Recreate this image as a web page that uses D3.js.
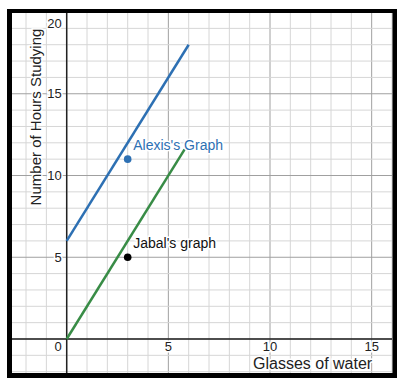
<!DOCTYPE html>
<html><head><meta charset="utf-8">
<script src="https://cdn.jsdelivr.net/npm/d3@7"></script>
<style>body{margin:0;background:#fff}svg{display:block}text{font-family:Arial,"Liberation Sans",sans-serif}</style>
</head><body>
<svg id="c" width="404" height="386"></svg>
<script>
const xTicks = [0, 5, 10, 15];
const yTicks = [5, 10, 15, 20];
const alexisLine = [{x: 0, y: 6}, {x: 6, y: 18}];
const jabalLine = [{x: 0, y: 0}, {x: 5.8, y: 11.6}];
const alexisPoint = {x: 3, y: 11};
const jabalPoint = {x: 3, y: 5};
const labels = {xTitle: "Glasses of water", yTitle: "Number of Hours Studying", alexis: "Alexis's Graph", jabal: "Jabal's graph"};

const svg = d3.select("#c");
const L = 12, R = 392, T = 13, B = 373;
const x = d3.scaleLinear().domain([-2.69, 16.0]).range([L, R]);
const y = d3.scaleLinear().domain([-2.08, 19.94]).range([B, T]);

svg.append("rect").attr("x", 7).attr("y", 9).attr("width", 390).attr("height", 369).attr("fill", "#000");
svg.append("rect").attr("x", L).attr("y", T).attr("width", R - L).attr("height", B - T).attr("fill", "#fff");

const g = svg.append("g");
const xs = d3.range(-2, 17), ys = d3.range(-2, 20);
g.selectAll(".vx").data(xs).join("line")
  .attr("x1", d => x(d)).attr("x2", d => x(d)).attr("y1", T).attr("y2", B)
  .attr("stroke", d => d % 5 === 0 ? "#a0a0a0" : "#d6d6d6").attr("stroke-width", 1);
g.selectAll(".hy").data(ys).join("line")
  .attr("y1", d => y(d)).attr("y2", d => y(d)).attr("x1", L).attr("x2", R)
  .attr("stroke", d => d % 5 === 0 ? "#a0a0a0" : "#d6d6d6").attr("stroke-width", 1);
// axes
g.append("line").attr("x1", x(0)).attr("x2", x(0)).attr("y1", T).attr("y2", B).attr("stroke", "#222").attr("stroke-width", 1.5);
g.append("line").attr("y1", y(0)).attr("y2", y(0)).attr("x1", L).attr("x2", R).attr("stroke", "#222").attr("stroke-width", 1.5);

// tick labels
const tl = svg.append("g").attr("font-size", 13).attr("fill", "#222");
tl.selectAll(".xl").data(xTicks).join("text")
  .attr("x", d => d === 0 ? x(0) - 5 : x(d)).attr("y", y(0) + 12.5)
  .attr("text-anchor", d => d === 0 ? "end" : "middle")
  .attr("stroke", "#fff").attr("stroke-width", 3).attr("paint-order", "stroke")
  .text(d => d);
tl.selectAll(".yl").data(yTicks).join("text")
  .attr("x", x(0) - 5).attr("y", d => Math.max(y(d), 23) + 4.5)
  .attr("text-anchor", "end")
  .attr("stroke", "#fff").attr("stroke-width", 3).attr("paint-order", "stroke")
  .text(d => d);

const line = d3.line().x(d => x(d.x)).y(d => y(d.y));
svg.append("path").attr("d", line(alexisLine)).attr("stroke", "#2d70b3").attr("stroke-width", 2.5).attr("fill", "none");
svg.append("path").attr("d", line(jabalLine)).attr("stroke", "#388c46").attr("stroke-width", 2.5).attr("fill", "none");
svg.append("circle").attr("cx", x(alexisPoint.x)).attr("cy", y(alexisPoint.y)).attr("r", 3.8).attr("fill", "#2d70b3");
svg.append("circle").attr("cx", x(jabalPoint.x)).attr("cy", y(jabalPoint.y)).attr("r", 3.8).attr("fill", "#000");

svg.append("text").attr("x", x(alexisPoint.x) + 5.5).attr("y", y(alexisPoint.y) - 9.5)
  .attr("font-size", 14).attr("fill", "#2d70b3")
  .attr("stroke", "#fff").attr("stroke-width", 3).attr("paint-order", "stroke").text(labels.alexis);
svg.append("text").attr("x", x(jabalPoint.x) + 5.5).attr("y", y(jabalPoint.y) - 9.5)
  .attr("font-size", 14).attr("fill", "#111")
  .attr("stroke", "#fff").attr("stroke-width", 3).attr("paint-order", "stroke").text(labels.jabal);

svg.append("text").attr("x", 253).attr("y", 369).attr("font-size", 16).attr("fill", "#222")
  .attr("stroke", "#fff").attr("stroke-width", 3).attr("paint-order", "stroke").text(labels.xTitle);
svg.append("text").attr("transform", "translate(41,117) rotate(-90)").attr("text-anchor", "middle")
  .attr("font-size", 15).attr("fill", "#222")
  .attr("stroke", "#fff").attr("stroke-width", 3).attr("paint-order", "stroke").text(labels.yTitle);
</script>
</body></html>
